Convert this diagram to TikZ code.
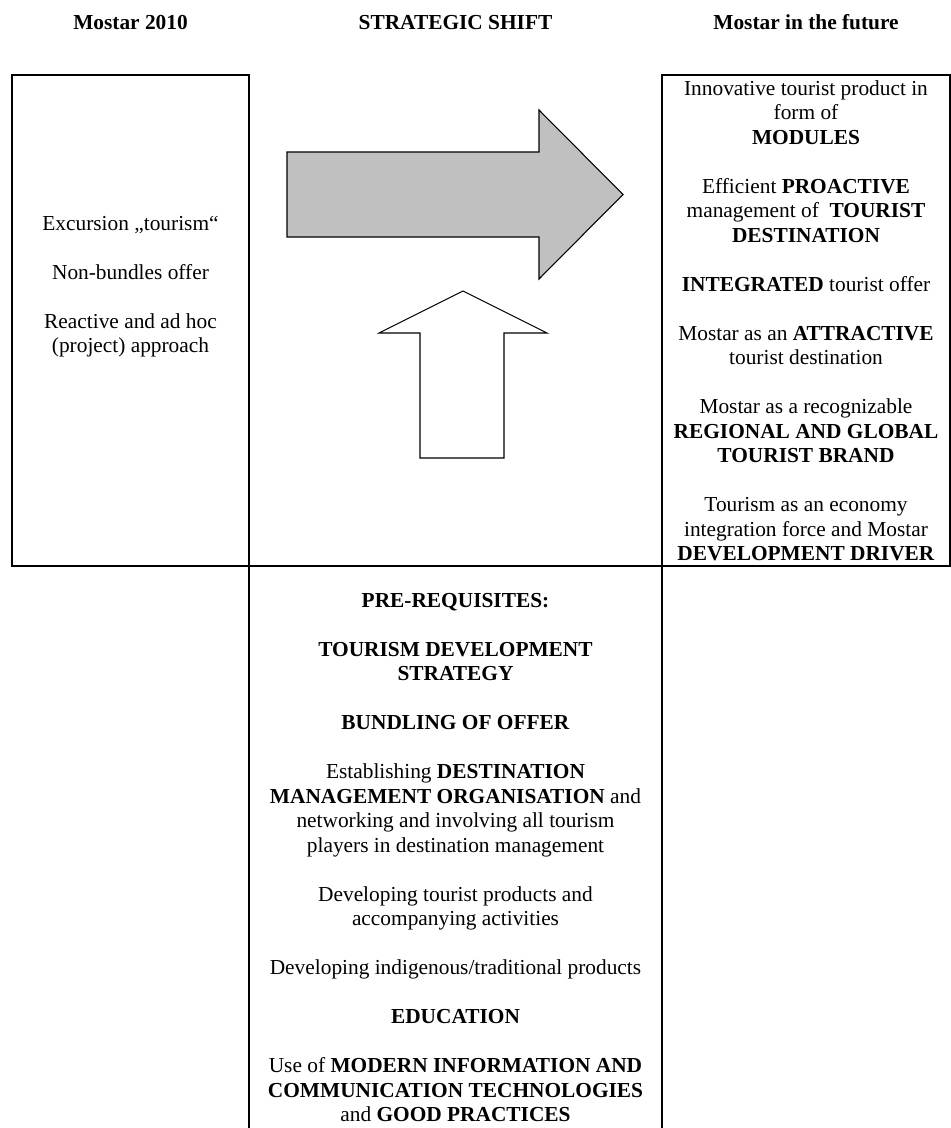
\documentclass[tikz,border=0pt]{standalone}
\usepackage{fontspec}
\setmainfont{Liberation Serif}
\definecolor{arrowgray}{RGB}{192,192,192}
\begin{document}
\begin{tikzpicture}[x=0.5618pt,y=-0.5618pt,
  boxline/.style={line width=1.1pt},
  txt/.style={inner sep=0pt, align=center, font=\fontsize{12}{13.76}\selectfont},
  hdr/.style={inner sep=0pt, font=\fontsize{12}{13.76}\selectfont\bfseries},
  arrowshape/.style={draw=black, line width=0.6pt, line join=miter}]
\useasboundingbox (0,0) rectangle (951,1128);
\fill[white] (0,0) rectangle (951,1128);

% headers
\node[hdr, anchor=base] (h1) at (130.5,30) {Mostar 2010};
\node[hdr, anchor=base] (h2) at (455.5,30) {STRATEGIC SHIFT};
\node[hdr, anchor=base] (h3) at (806,30) {Mostar in the future};

% boxes
\coordinate (ltop) at (12,75);
\coordinate (lbot) at (249,566);
\coordinate (rtop) at (662,75);
\coordinate (rbot) at (950,566);
\coordinate (mtl) at (249,566);
\coordinate (mbl) at (249,1128);
\coordinate (mtr) at (662,566);
\coordinate (mbr) at (662,1128);
\draw[boxline] (ltop) rectangle (lbot);
\draw[boxline] (rtop) rectangle (rbot);
\draw[boxline] (lbot) -- (rtop |- lbot);
\draw[boxline] (mtl) -- (mbl);
\draw[boxline] (mtr) -- (mbr);

% arrows
\draw[arrowshape, fill=arrowgray] (287,152) -- (539,152) -- (539,110) -- (623,194.5) -- (539,279) -- (539,237) -- (287,237) -- cycle;
\draw[arrowshape, fill=white] (420,458) -- (420,333) -- (379,333) -- (463,291) -- (547,333) -- (504,333) -- (504,458) -- cycle;

% texts
\node[txt, anchor=north] (now) at (130.5,213) {\strut Excursion „tourism“\\[13.76pt]
Non-bundles offer\\[13.76pt]
Reactive and ad hoc\\
(project) approach};

\node[txt, anchor=north] (future) at (806,78) {\strut Innovative tourist product in\\
form of\\
\textbf{MODULES}\\[13.76pt]
Efficient \textbf{PROACTIVE}\\
management of \ \textbf{TOURIST}\\
\textbf{DESTINATION}\\[13.76pt]
\textbf{INTEGRATED} tourist offer\\[13.76pt]
Mostar as an \textbf{ATTRACTIVE}\\
tourist destination\\[13.76pt]
Mostar as a recognizable\\
\textbf{REGIONAL AND GLOBAL}\\
\textbf{TOURIST BRAND}\\[13.76pt]
Tourism as an economy\\
integration force and Mostar\\
\textbf{DEVELOPMENT DRIVER}};

\node[txt, anchor=north] (prereq) at (455.5,590) {\strut\textbf{PRE-REQUISITES:}\\[13.76pt]
\textbf{TOURISM DEVELOPMENT}\\
\textbf{STRATEGY}\\[13.76pt]
\textbf{BUNDLING OF OFFER}\\[13.76pt]
Establishing \textbf{DESTINATION}\\
\textbf{MANAGEMENT ORGANISATION} and\\
networking and involving all tourism\\
players in destination management\\[13.76pt]
Developing tourist products and\\
accompanying activities\\[13.76pt]
Developing indigenous/traditional products\\[13.76pt]
\textbf{EDUCATION}\\[13.76pt]
Use of \textbf{MODERN INFORMATION AND}\\
\textbf{COMMUNICATION TECHNOLOGIES}\\
and \textbf{GOOD PRACTICES}};
\end{tikzpicture}
\end{document}
